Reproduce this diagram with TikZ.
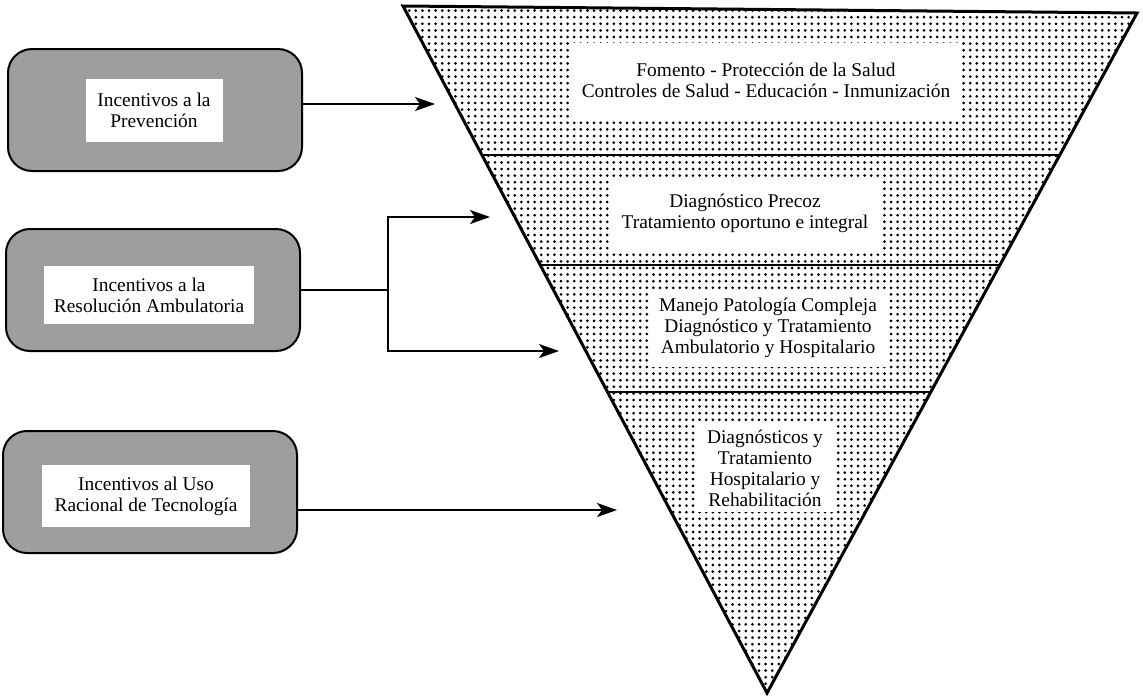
\documentclass[tikz,border=0pt]{standalone}
\usepackage{fontspec}
\setmainfont{Liberation Serif}
\usetikzlibrary{arrows.meta, patterns}
\pgfdeclarepatternformonly{lvldots}{\pgfqpoint{-1pt}{-1pt}}{\pgfqpoint{1pt}{1pt}}{\pgfqpoint{3.3pt}{3.3pt}}{\pgfpathcircle{\pgfqpoint{0pt}{0pt}}{0.75pt}\pgfusepath{fill}}
\tikzset{>={Stealth[length=10pt,width=7pt,inset=2.5pt]}}
\tikzset{incbox/.style={draw=black, line width=1pt, rounded corners=12pt, fill=black!38, minimum width=147pt, minimum height=61pt, inner sep=0pt}}
\tikzset{inctext/.style={fill=white, inner sep=0pt, align=center, font=\fontsize{9.7}{10.5}\selectfont}}
\tikzset{lvltext/.style={fill=white, inner sep=0pt, align=center, font=\fontsize{9.7}{10.5}\selectfont}}
\tikzset{conn/.style={line width=0.8pt}}

\begin{document}
\begin{tikzpicture}[x=0.5pt, y=-0.5pt]
\useasboundingbox (0,0) rectangle (1143,697);
\coordinate (tl) at (403,6);
\coordinate (tr) at (1137,13);
\coordinate (tip) at (767,693);
\fill[pattern=lvldots] (tl) -- (tr) -- (tip) -- cycle;
\begin{scope}
\clip (tl) -- (tr) -- (tip) -- cycle;
\foreach \y in {155,265,392} \draw[line width=0.7pt] (400,\y) -- (1140,\y);
\end{scope}
\draw[line width=1.5pt, line join=miter] (tl) -- (tr) -- (tip) -- cycle;

\node[lvltext, minimum width=193.5pt, minimum height=37.5pt] (lvl1) at (766,80) {Fomento - Protección de la Salud\\Controles de Salud - Educación - Inmunización};
\node[lvltext, minimum width=135pt, minimum height=36.5pt] (lvl2) at (745,213) {Diagnóstico Precoz\\Tratamiento oportuno e integral};
\node[lvltext, minimum width=118.5pt, minimum height=38.5pt] (lvl3) at (768,328) {Manejo Patología Compleja\\Diagnóstico y Tratamiento\\Ambulatorio y Hospitalario};
\node[lvltext, minimum width=68pt, minimum height=43.5pt] (lvl4) at (765,468) {Diagnósticos y\\Tratamiento\\Hospitalario y\\Rehabilitación};

\node[incbox] (prev) at (155,110) {};
\node[inctext, minimum width=68.5pt, minimum height=31.5pt] (prevtxt) at (154,110) {Incentivos a la\\Prevención};
\node[incbox] (amb) at (153,290) {};
\node[inctext, minimum width=105pt, minimum height=29pt] (ambtxt) at (149,295) {Incentivos a la\\Resolución Ambulatoria};
\node[incbox] (tec) at (150,492) {};
\node[inctext, minimum width=104pt, minimum height=31pt] (tectxt) at (146,496) {Incentivos al Uso\\Racional de Tecnología};

\coordinate (in1) at (435,104);
\coordinate (split) at (388,290);
\coordinate (in2) at (490,217);
\coordinate (in3) at (559,351);
\coordinate (in4) at (617,510);
\draw[->, conn] (prev.east |- in1) -- (in1);
\draw[conn] (amb.east) -- (split);
\draw[->, conn] (split) |- (in2);
\draw[->, conn] (split) |- (in3);
\draw[->, conn] (tec.east |- in4) -- (in4);
\end{tikzpicture}
\end{document}
